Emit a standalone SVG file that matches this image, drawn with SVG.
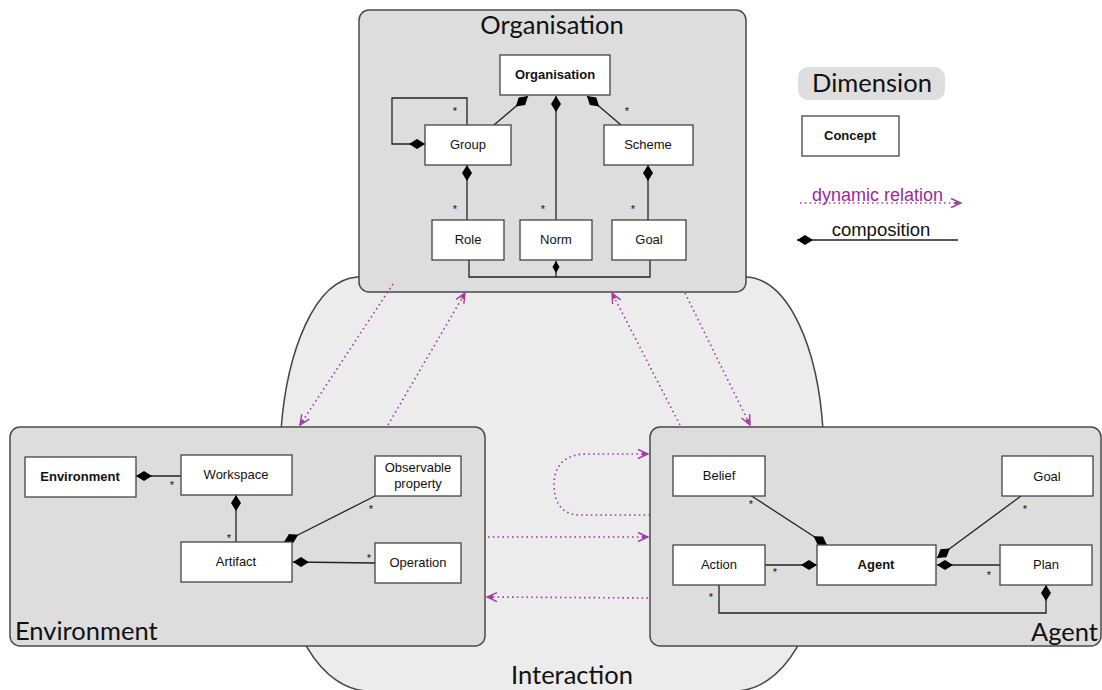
<svg xmlns="http://www.w3.org/2000/svg" width="1102" height="690" viewBox="0 0 1102 690">
<defs>
<style>
.dim{fill:#dddddd;stroke:#4a4a4a;stroke-width:1.5}
.blob{fill:#ececec;stroke:#444;stroke-width:1.5}
.node{fill:#fff;stroke:#444;stroke-width:1.3}
.t{font-family:"Liberation Sans",Arial,sans-serif;font-size:13px;fill:#111;text-anchor:middle}
.b{font-weight:bold}
.title{font-family:Lato,"Open Sans",sans-serif;font-size:25.5px;fill:#111}
.star{font-family:"Liberation Sans",Arial,sans-serif;font-size:11px;fill:#111;text-anchor:middle}
.comp{fill:none;stroke:#222;stroke-width:1.3;marker-start:url(#dia)}
.plain{fill:none;stroke:#222;stroke-width:1.3}
.dyn{fill:none;stroke:#a53aa5;stroke-width:1.6;stroke-dasharray:1.6 3.2;marker-end:url(#arr)}
</style>
<marker id="dia" viewBox="-1 -6 18 12" refX="0" refY="0" markerWidth="18" markerHeight="12" markerUnits="userSpaceOnUse" orient="auto">
<path d="M0,0 L8,-5 L16,0 L8,5 Z" fill="#000"/>
</marker>
<marker id="dias" viewBox="-1 -4 14 8" refX="0" refY="0" markerWidth="14" markerHeight="8" markerUnits="userSpaceOnUse" orient="auto">
<path d="M0,0 L6,-3.5 L12,0 L6,3.5 Z" fill="#000"/>
</marker>
<marker id="arr" viewBox="-1 -6 13 12" refX="10" refY="0" markerWidth="13" markerHeight="12" markerUnits="userSpaceOnUse" orient="auto">
<path d="M0,-4.5 L10,0 L0,4.5" fill="none" stroke="#a53aa5" stroke-width="1.4"/>
<path d="M4,-2 L10,0 L4,2 Z" fill="#a53aa5"/>
</marker>
</defs>

<g id="interaction">
<path class="blob" d="M357 277 L747 277 C790 280 818 350 823 430 L823 540 A88 151 0 0 1 735 691 L369 691 A88 151 0 0 1 281 540 L281 430 C287 350 315 280 357 277 Z"/>
<text class="title" x="572" y="684" text-anchor="middle">Interaction</text>
</g>

<g id="organisation-dimension">
<rect class="dim" x="359" y="10" width="387" height="282" rx="10"/>
<text class="title" x="552" y="34" text-anchor="middle">Organisation</text>
</g>
<g id="environment-dimension">
<rect class="dim" x="10" y="427" width="475" height="219" rx="10"/>
<text class="title" x="15" y="640">Environment</text>
</g>
<g id="agent-dimension">
<rect class="dim" x="650" y="427" width="451" height="219" rx="10"/>
<text class="title" x="1098" y="641" text-anchor="end">Agent</text>
</g>

<g id="connectors">
<!-- organisation -->
<path class="comp" d="M528 96 L494 125"/>
<path class="comp" d="M556 96 L556 220"/>
<path class="comp" d="M587 96 L621 125"/>
<path class="comp" d="M425 144 H392 V98 H467 V125"/>
<path class="comp" d="M467 165 V220"/>
<path class="comp" d="M648 165 V220"/>
<path class="plain" d="M469 260 V277 H650 V260"/>
<path class="plain" d="M556 261 V277" style="marker-start:url(#dias)"/>
<!-- environment -->
<path class="comp" d="M136 476 H181"/>
<path class="comp" d="M236 495 V542"/>
<path class="comp" d="M284 542 L375 496"/>
<path class="comp" d="M293 562 L375 563"/>
<!-- agent -->
<path class="comp" d="M827 545 L750 495"/>
<path class="comp" d="M937 558 L1021 496"/>
<path class="comp" d="M817 565 H765"/>
<path class="comp" d="M937 565 H1000"/>
<path class="comp" d="M1046 585 V613 H719 V585"/>
<!-- dynamic relations -->
<path class="dyn" d="M393 284 L300 425"/>
<path class="dyn" d="M388 425 L465 293"/>
<path class="dyn" d="M680 425 L612 293"/>
<path class="dyn" d="M685 293 L750 425"/>
<path class="dyn" d="M650 515 H580 C560 515 554 500 554 485 C554 468 562 455 585 454 H648"/>
<path class="dyn" d="M488 537 H648"/>
<path class="dyn" d="M648 598 L487 597"/>
<!-- stars -->
<text class="star" x="455" y="115">*</text>
<text class="star" x="627" y="115">*</text>
<text class="star" x="455" y="213">*</text>
<text class="star" x="543" y="213">*</text>
<text class="star" x="633" y="213">*</text>
<text class="star" x="172" y="489">*</text>
<text class="star" x="229" y="542">*</text>
<text class="star" x="371" y="513">*</text>
<text class="star" x="369" y="562">*</text>
<text class="star" x="751" y="508">*</text>
<text class="star" x="1025" y="513">*</text>
<text class="star" x="775" y="576">*</text>
<text class="star" x="989" y="579">*</text>
<text class="star" x="711" y="601">*</text>
</g>

<g id="n-organisation"><rect class="node" x="500" y="55" width="110" height="40"/><text class="t b" x="555" y="79">Organisation</text></g>
<g id="n-group"><rect class="node" x="425" y="125" width="86" height="40"/><text class="t" x="468" y="149">Group</text></g>
<g id="n-scheme"><rect class="node" x="604" y="125" width="89" height="40"/><text class="t" x="648" y="149">Scheme</text></g>
<g id="n-role"><rect class="node" x="432" y="220" width="72" height="40"/><text class="t" x="468" y="244">Role</text></g>
<g id="n-norm"><rect class="node" x="520" y="220" width="72" height="40"/><text class="t" x="556" y="244">Norm</text></g>
<g id="n-org-goal"><rect class="node" x="612" y="220" width="74" height="40"/><text class="t" x="649" y="244">Goal</text></g>

<g id="n-environment"><rect class="node" x="25" y="457" width="111" height="40"/><text class="t b" x="80" y="481">Environment</text></g>
<g id="n-workspace"><rect class="node" x="181" y="455" width="111" height="40"/><text class="t" x="236" y="479">Workspace</text></g>
<g id="n-observable"><rect class="node" x="375" y="456" width="86" height="40"/><text class="t" x="418" y="472">Observable</text><text class="t" x="418" y="488">property</text></g>
<g id="n-artifact"><rect class="node" x="181" y="542" width="111" height="40"/><text class="t" x="236" y="566">Artifact</text></g>
<g id="n-operation"><rect class="node" x="375" y="543" width="86" height="40"/><text class="t" x="418" y="567">Operation</text></g>

<g id="n-belief"><rect class="node" x="673" y="456" width="92" height="40"/><text class="t" x="719" y="480">Belief</text></g>
<g id="n-agent-goal"><rect class="node" x="1002" y="456" width="91" height="40"/><text class="t" x="1047" y="481">Goal</text></g>
<g id="n-action"><rect class="node" x="673" y="545" width="92" height="40"/><text class="t" x="719" y="569">Action</text></g>
<g id="n-agent"><rect class="node" x="817" y="545" width="119" height="40"/><text class="t b" x="876" y="569">Agent</text></g>
<g id="n-plan"><rect class="node" x="1000" y="545" width="92" height="40"/><text class="t" x="1046" y="569">Plan</text></g>

<g id="legend">
<rect x="798" y="67" width="147" height="33" rx="10" fill="#dedede"/>
<text class="title" x="872" y="92" text-anchor="middle">Dimension</text>
<rect class="node" x="802" y="116" width="97" height="40"/>
<text class="t b" x="850" y="140">Concept</text>
<text x="812" y="201" font-family="'Liberation Sans',Arial,sans-serif" font-size="18" fill="#9a2a9a">dynamic relation</text>
<path class="dyn" d="M800 203 H961"/>
<text x="881" y="236" font-family="'Liberation Sans',Arial,sans-serif" font-size="18.5" fill="#111" text-anchor="middle">composition</text>
<path class="comp" d="M797 240 H958"/>
</g>
</svg>
